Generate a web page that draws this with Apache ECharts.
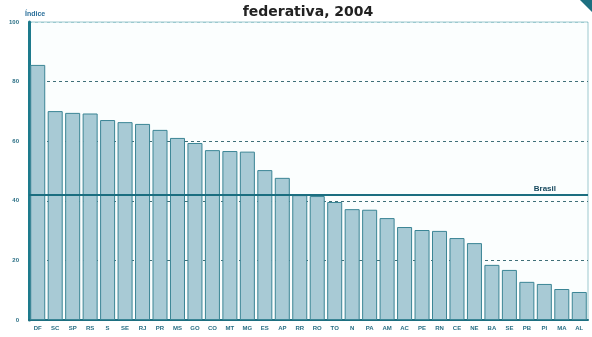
<!DOCTYPE html>
<html><head><meta charset="utf-8">
<script src="https://cdn.jsdelivr.net/npm/echarts@6/dist/echarts.min.js"></script>
<style>html,body{margin:0;padding:0;background:#fff}#c{width:592px;height:337px}</style>
</head><body><div id="c"></div>
<script>
const categories = ['DF','SC','SP','RS','S','SE','RJ','PR','MS','GO','CO','MT','MG','ES','AP','RR','RO','TO','N','PA','AM','AC','PE','RN','CE','NE','BA','SE','PB','PI','MA','AL'];
const values = [85.6,70.1,69.5,69.3,67.1,66.4,65.8,63.8,61.1,59.4,57.0,56.7,56.5,50.3,47.7,41.9,41.6,39.6,37.2,37.0,34.2,31.2,30.2,29.9,27.5,25.8,18.5,16.8,12.8,12.1,10.4,9.4];
const brasil = 42;
const yTicks = [0,20,40,60,80,100];
const chart = echarts.init(document.getElementById('c'));
chart.setOption({
  backgroundColor:'#ffffff',
  animation:false,
  title:{text:'federativa, 2004',left:303,textAlign:'center',top:0,textStyle:{fontSize:14,fontWeight:'bold',color:'#222',fontFamily:'DejaVu Sans'}},
  grid:{left:29,right:4,top:22,bottom:17,show:true,borderColor:'#9cc9cf',borderWidth:1,backgroundColor:'#fbfefe'},
  xAxis:{type:'category',data:categories,
    axisLine:{lineStyle:{color:'#1d6f80',width:2}},
    axisTick:{show:false},
    axisLabel:{fontSize:6,fontWeight:'bold',color:'#2a6f85',interval:0,margin:5}},
  yAxis:{type:'value',min:0,max:100,interval:20,
    name:'Índice',nameLocation:'end',nameGap:4,nameTextStyle:{fontSize:7,fontWeight:'bold',color:'#2a6f9a',align:'left',padding:[0,0,0,-4]},
    axisLine:{show:true,lineStyle:{color:'#1d7a8c',width:3}},
    axisTick:{show:false},
    axisLabel:{fontSize:6,fontWeight:'bold',color:'#2a6f85',margin:10,formatter:v=>yTicks.includes(v)?String(v):''},
    splitLine:{lineStyle:{color:['transparent','#3f6f78','#3f6f78','#3f6f78','#3f6f78','#9cc9cf'],type:[3,3],width:1}}},
  series:[{type:'bar',data:values,barCategoryGap:'14%',
    itemStyle:{color:'#a8cad5',borderColor:'#3b8595',borderWidth:1},
    markLine:{symbol:'none',silent:true,
      lineStyle:{color:'#1b6e80',width:2,type:'solid'},
      label:{show:true,position:'insideEndTop',formatter:'Brasil',fontSize:8,fontWeight:'bold',color:'#16485e',distance:[32,2]},
      data:[{yAxis:brasil}]}}],
  graphic:[{type:'polygon',shape:{points:[[580,0],[592,0],[592,12]]},style:{fill:'#1d6f80'}}]
});
</script></body></html>
